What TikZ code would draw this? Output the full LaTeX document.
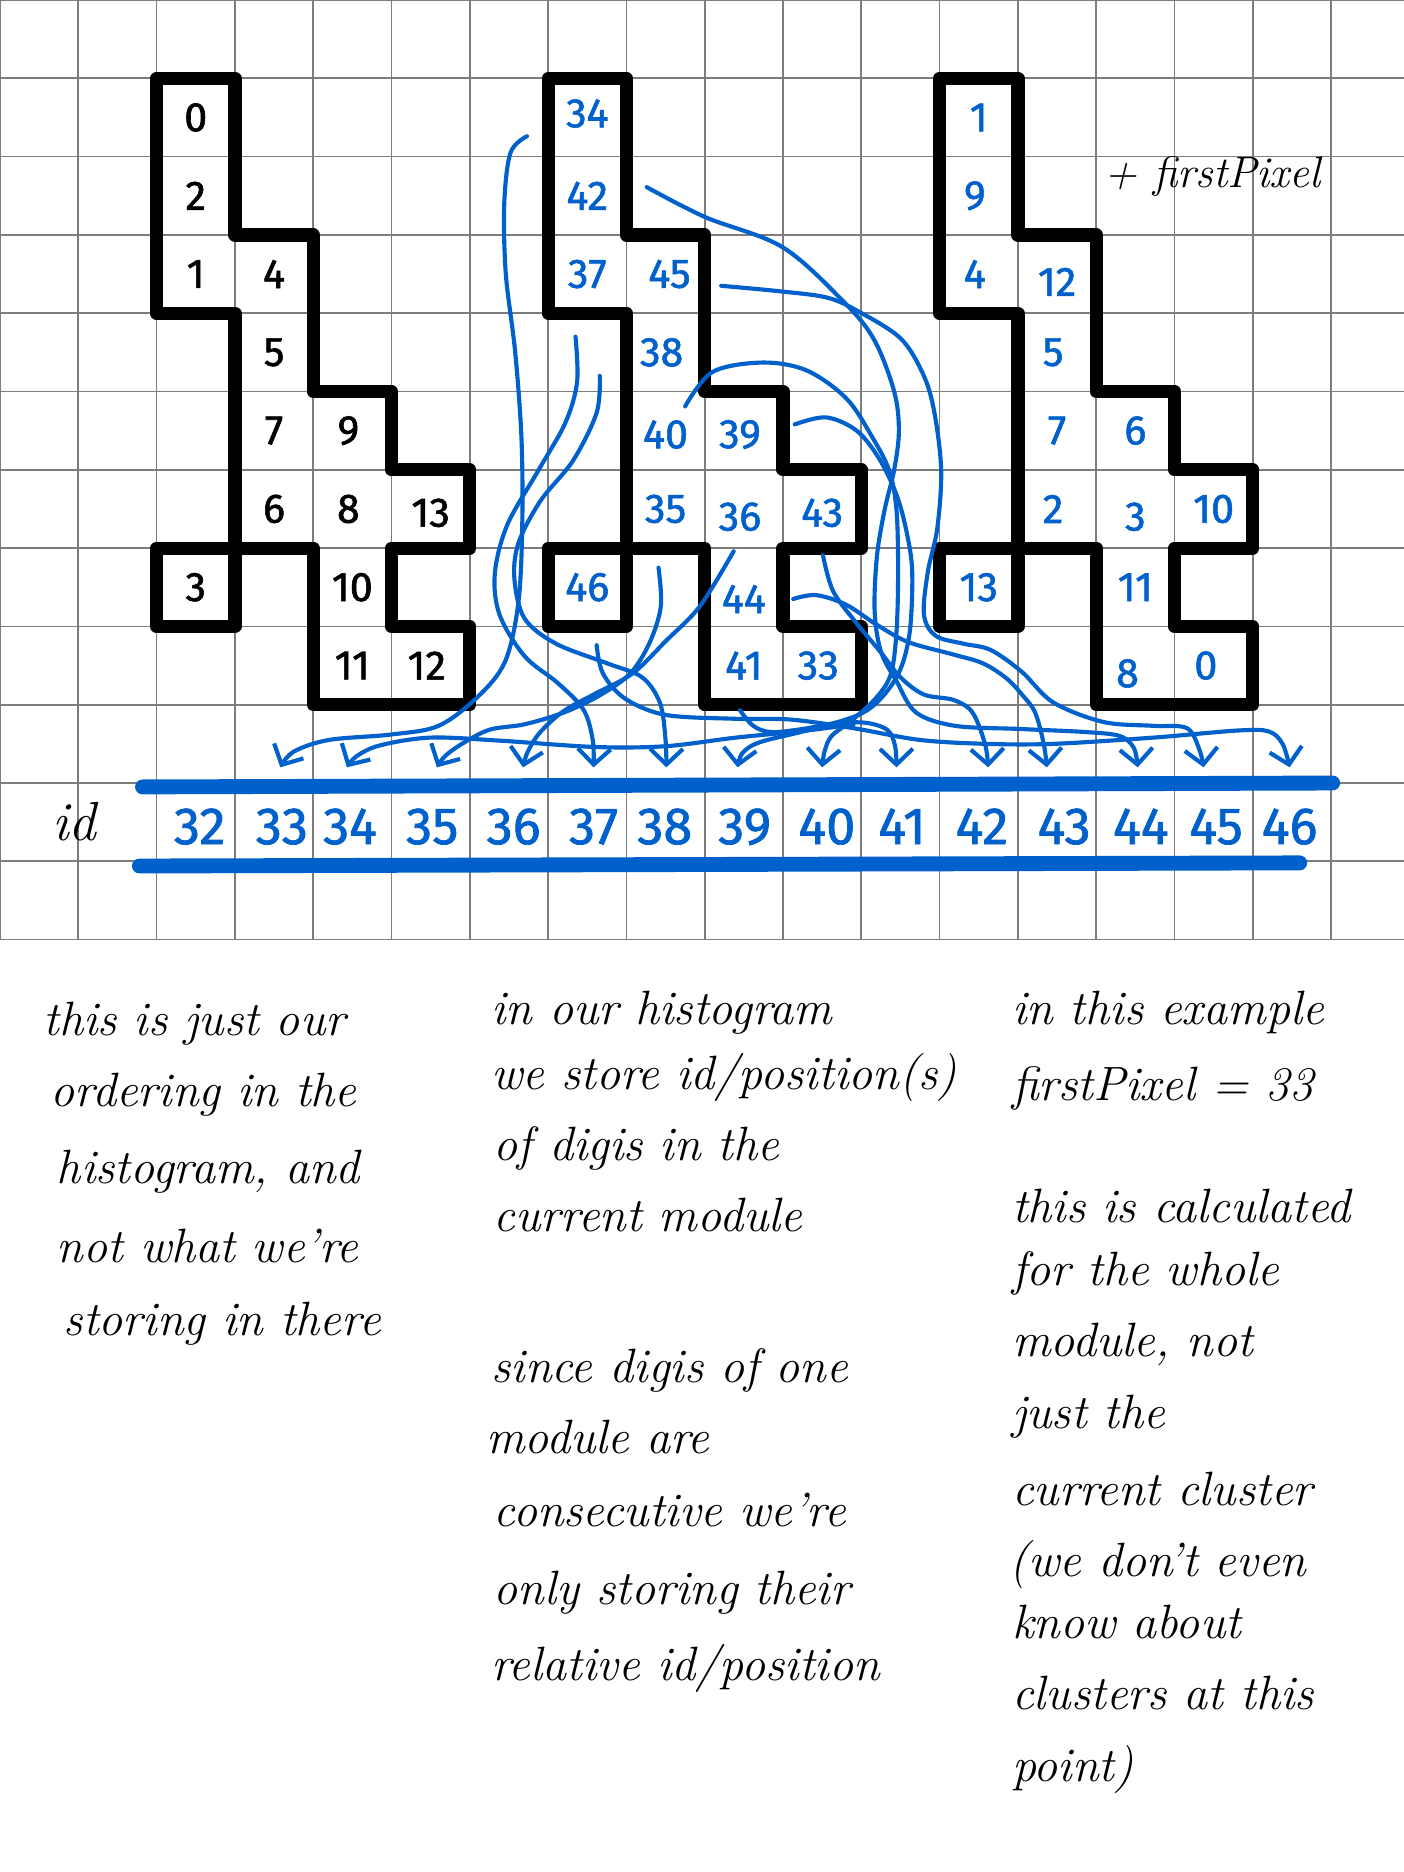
\documentclass[tikz,border=0pt]{standalone}
\usepackage{fontspec}
\newfontfamily\handdigits{Fira Sans}[FakeBold=1.4]
\usetikzlibrary{arrows.meta}
\definecolor{ink}{RGB}{0,96,204}
\definecolor{gridgray}{RGB}{125,125,125}
\begin{document}
\begin{tikzpicture}[x=1cm,y=-1cm,
  gridline/.style={draw=gridgray, line width=0.6pt},
  outline/.style={draw=black, line width=4.8pt, line join=round, line cap=round},
  cellnum/.style={font=\handdigits\fontsize{15}{15}\selectfont, inner sep=0pt},
  idnum/.style={font=\handdigits\fontsize{19}{19}\selectfont, text=ink, inner sep=0pt, anchor=base},
  bar/.style={draw=ink, line width=5.4pt, line cap=round},
  link/.style={draw=ink, line width=1.5pt, line cap=round, line join=round,
    -{Straight Barb[length=2mm,width=4.2mm]}},
  note/.style={font=\itshape\fontsize{17.5}{20}\selectfont, anchor=base west, inner sep=0pt},
]
% canvas
\fill[white] (0,0) rectangle (17.931,23.908);
\useasboundingbox (0,0) rectangle (17.931,23.908);
\draw[gridline] (0,0) grid (17.931,12);

% the three pixel clusters (same footprint)
\foreach \s in {0,5,10}{
  \begin{scope}[xshift=\s cm]
    \draw[outline] (2,1) -- (3,1) -- (3,3) -- (4,3) -- (4,5) -- (5,5) -- (5,6) -- (6,6)
      -- (6,7) -- (5,7) -- (5,8) -- (6,8) -- (6,9) -- (4,9) -- (4,7) -- (3,7) -- (3,4)
      -- (2,4) -- cycle;
    \draw[outline] (2,7) rectangle (3,8);
  \end{scope}
}

% ordering inside the histogram (left)
\foreach \x/\y/\n in {2.5/1.5/0, 2.5/2.5/2, 2.5/3.5/1, 3.5/3.5/4, 3.5/4.5/5, 3.5/5.5/7,
  4.45/5.5/9, 3.5/6.5/6, 4.45/6.5/8, 5.5/6.55/13, 2.5/7.5/3, 4.5/7.5/10, 4.5/8.5/11, 5.45/8.5/12}
  \node[cellnum] (L\n) at (\x,\y) {\n};

% stored ids (middle)
\foreach \x/\y/\n in {7.5/1.45/34, 7.5/2.5/42, 7.5/3.5/37, 8.55/3.5/45, 8.45/4.5/38, 8.5/5.55/40,
  9.45/5.55/39, 8.5/6.5/35, 9.45/6.6/36, 10.5/6.55/43, 7.5/7.5/46, 9.5/7.65/44, 9.5/8.5/41, 10.45/8.5/33}
  \node[cellnum,text=ink] (M\n) at (\x,\y) {\n};

% relative ids (right)
\foreach \x/\y/\n in {12.5/1.5/1, 12.45/2.5/9, 12.45/3.5/4, 13.5/3.6/12, 13.45/4.5/5, 13.5/5.5/7,
  14.5/5.5/6, 13.45/6.5/2, 14.5/6.6/3, 15.5/6.5/10, 12.5/7.5/13, 14.5/7.5/11, 14.4/8.6/8, 15.4/8.5/0}
  \node[cellnum,text=ink] (R\n) at (\x,\y) {\n};

\node[font=\itshape\fontsize{16}{16}\selectfont, anchor=base west, inner sep=0pt] (plusfp) at (14.1,2.4) {+ firstPixel};

% id row
\node[font=\itshape\fontsize{20}{20}\selectfont, anchor=base west, inner sep=0pt] (idlabel) at (0.66,10.74) {id};
\coordinate (barAl) at (1.82,10.05);
\coordinate (barAr) at (17.02,10.0);
\coordinate (barBl) at (1.78,11.06);
\coordinate (barBr) at (16.6,11.02);
\draw[bar] (barAl) -- (barAr);
\draw[bar] (barBl) -- (barBr);
\foreach \x/\n in {2.55/32, 3.6/33, 4.47/34, 5.52/35, 6.56/36, 7.58/37, 8.49/38, 9.51/39,
  10.56/40, 11.52/41, 12.54/42, 13.59/43, 14.57/44, 15.53/45, 16.47/46}
  \node[idnum] (id\n) at (\x,10.78) {\n};

% arrow tips above the id row
\foreach \x/\n in {3.58/33, 4.43/34, 5.58/35, 6.68/36, 7.58/37, 8.51/38, 9.42/39, 10.5/40,
  11.45/41, 12.62/42, 13.37/43, 14.53/44, 15.37/45, 16.47/46}
  \coordinate (t\n) at (\x,9.8);

% where the connectors leave the cells
\coordinate (s34) at (6.73,1.74);
\coordinate (s42) at (8.26,2.39);
\coordinate (s45) at (9.21,3.65);
\coordinate (s37) at (7.35,4.3);
\coordinate (s38) at (7.66,4.8);
\coordinate (s40) at (8.75,5.19);
\coordinate (s39) at (10.15,5.42);
\coordinate (s36) at (9.37,7.04);
\coordinate (s43) at (10.51,7.09);
\coordinate (s35) at (8.41,7.25);
\coordinate (s44) at (10.13,7.65);
\coordinate (s46) at (7.62,8.24);
\coordinate (s41) at (9.45,9.07);
\coordinate (s33) at (10.9,9.25);

% connectors
\draw[link] plot[smooth,tension=0.55] coordinates {(s34) (6.52,1.95) (6.44,2.6) (6.46,3.5) (6.58,4.5) (6.66,5.6) (6.67,6.7) (6.62,7.7) (6.45,8.45) (6.1,8.9) (5.6,9.27) (5.0,9.38) (4.2,9.45) (3.75,9.6) (t33)};
\draw[link] plot[smooth,tension=0.55] coordinates {(s33) (10.3,9.33) (9.4,9.42) (8.5,9.53) (7.6,9.54) (6.4,9.46) (5.5,9.42) (4.85,9.52) (4.55,9.66) (t34)};
\draw[link] plot[smooth,tension=0.55] coordinates {(s35) (8.44,7.74) (8.3,8.2) (8.05,8.6) (7.66,8.88) (7.2,9.1) (6.7,9.25) (6.25,9.32) (5.9,9.5) (5.68,9.66) (t35)};
\draw[link] plot[smooth,tension=0.55] coordinates {(s36) (8.94,7.74) (8.51,8.18) (8.08,8.6) (7.6,8.86) (7.2,9.08) (6.9,9.35) (6.74,9.6) (t36)};
\draw[link] plot[smooth,tension=0.55] coordinates {(s37) (7.37,4.88) (7.22,5.4) (6.88,6.0) (6.48,6.7) (6.32,7.32) (6.38,7.85) (6.7,8.38) (7.12,8.72) (7.45,9.06) (7.57,9.45) (t37)};
\draw[link] plot[smooth,tension=0.55] coordinates {(s38) (7.62,5.27) (7.32,5.88) (6.9,6.4) (6.62,6.94) (6.57,7.4) (6.7,7.9) (7.1,8.22) (7.75,8.47) (8.2,8.65) (8.43,8.98) (8.5,9.45) (t38)};
\draw[link] plot[smooth,tension=0.55] coordinates {(s39) (10.55,5.33) (10.94,5.5) (11.23,5.86) (11.45,6.32) (11.58,6.8) (11.65,7.3) (11.62,8.06) (11.49,8.57) (11.24,8.93) (10.94,9.14) (10.3,9.33) (9.7,9.48) (9.48,9.62) (t39)};
\draw[link] plot[smooth,tension=0.55] coordinates {(s40) (9.1,4.75) (9.74,4.63) (10.3,4.73) (10.81,5.09) (11.15,5.6) (11.36,6.02) (11.45,6.52) (11.47,7.3) (11.45,8.06) (11.38,8.6) (11.2,8.9) (10.88,9.2) (10.62,9.4) (10.53,9.6) (t40)};
\draw[link] plot[smooth,tension=0.55] coordinates {(s41) (9.62,9.27) (9.85,9.35) (10.25,9.31) (10.65,9.24) (11.05,9.23) (11.33,9.32) (11.43,9.52) (t41)};
\draw[link] plot[smooth,tension=0.55] coordinates {(s42) (9.0,2.77) (10.0,3.16) (10.8,3.88) (11.17,4.35) (11.42,5.0) (11.48,5.5) (11.42,6.0) (11.3,6.5) (11.2,7.1) (11.17,7.8) (11.25,8.32) (11.45,8.7) (11.7,9.1) (12.2,9.27) (13.03,9.31) (13.88,9.35) (14.3,9.4) (14.48,9.55) (t44)};
\draw[link] plot[smooth,tension=0.55] coordinates {(s43) (10.64,7.55) (10.94,7.96) (11.24,8.32) (11.5,8.65) (11.8,8.87) (12.18,8.94) (12.42,9.1) (12.58,9.5) (t42)};
\draw[link] plot[smooth,tension=0.55] coordinates {(s44) (10.42,7.6) (10.8,7.72) (11.2,7.98) (11.6,8.2) (12.18,8.36) (12.55,8.47) (12.85,8.66) (13.06,8.88) (13.22,9.1) (13.33,9.5) (t43)};
\draw[link] plot[smooth,tension=0.55] coordinates {(s45) (9.96,3.72) (10.56,3.8) (10.95,3.97) (11.5,4.32) (11.79,4.78) (11.93,5.25) (12.02,6.0) (11.97,6.75) (11.85,7.3) (11.8,7.85) (11.95,8.12) (12.3,8.22) (12.65,8.3) (13.05,8.58) (13.45,8.97) (14.09,9.22) (14.73,9.27) (15.16,9.3) (15.32,9.58) (t45)};
\draw[link] plot[smooth,tension=0.55] coordinates {(s46) (7.7,8.6) (7.98,8.92) (8.5,9.13) (9.4,9.18) (10.1,9.19) (10.9,9.3) (11.75,9.45) (12.6,9.5) (13.45,9.5) (14.73,9.42) (15.8,9.33) (16.2,9.34) (16.38,9.5) (t46)};

% notes, left column
\node[note] (na1) at (0.55,13.22) {this is just our};
\node[note] (na2) at (0.64,14.13) {ordering in the};
\node[note] (na3) at (0.72,15.12) {histogram, and};
\node[note] (na4) at (0.72,16.12) {not what we're};
\node[note] (na5) at (0.81,17.06) {storing in there};

% notes, middle column
\node[note] (nb1) at (6.27,13.09) {in our histogram};
\node[note] (nb2) at (6.27,13.91) {we store id/position(s)};
\node[note] (nb3) at (6.3,14.82) {of digis in the};
\node[note] (nb4) at (6.3,15.73) {current module};
\node[note] (nb5) at (6.27,17.66) {since digis of one};
\node[note] (nb6) at (6.2,18.56) {module are};
\node[note] (nb7) at (6.3,19.5) {consecutive we're};
\node[note] (nb8) at (6.3,20.49) {only storing their};
\node[note] (nb9) at (6.27,21.46) {relative id/position};

% notes, right column
\node[note] (nc1) at (12.92,13.09) {in this example};
\node[note] (nc2) at (12.92,14.05) {firstPixel = 33};
\node[note] (nc3) at (12.92,15.61) {this is calculated};
\node[note] (nc4) at (12.92,16.42) {for the whole};
\node[note] (nc5) at (12.92,17.33) {module, not};
\node[note] (nc6) at (12.92,18.25) {just the};
\node[note] (nc7) at (12.92,19.23) {current cluster};
\node[note] (nc8) at (12.88,20.13) {(we don't even};
\node[note] (nc9) at (12.92,20.92) {know about};
\node[note] (nc10) at (12.92,21.83) {clusters at this};
\node[note] (nc11) at (12.92,22.75) {point)};
\end{tikzpicture}
\end{document}
